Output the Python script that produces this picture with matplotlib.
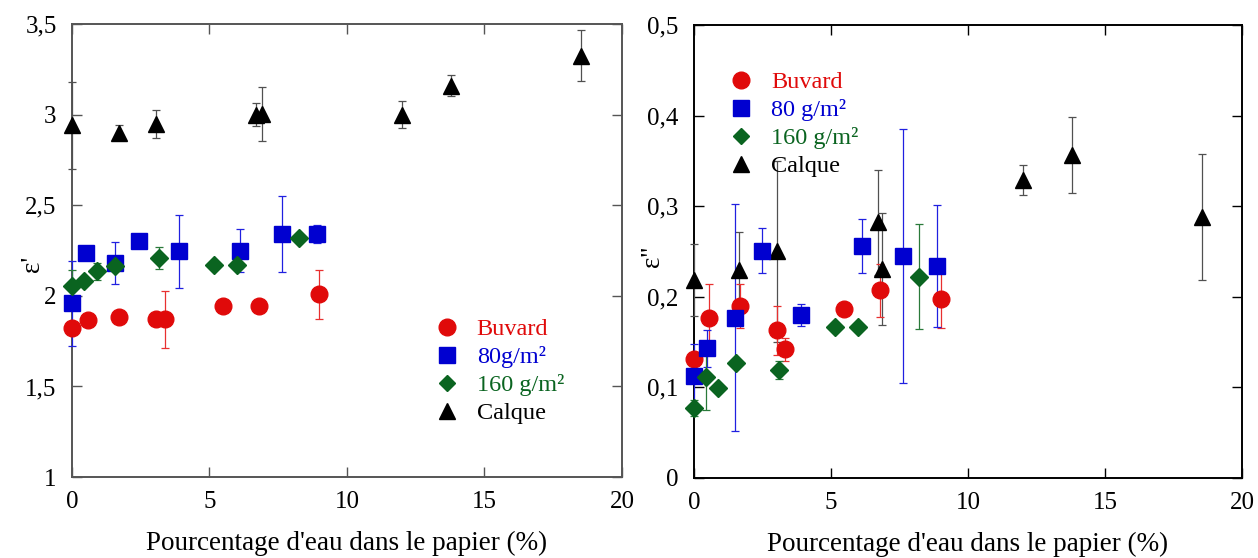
import matplotlib
matplotlib.use('Agg')
import matplotlib.pyplot as plt
from matplotlib.lines import Line2D
from matplotlib.ticker import FuncFormatter, MultipleLocator

plt.rcParams['font.family'] = ['Liberation Serif', 'DejaVu Serif']

# --- epsilon' (gauche) ---
buv_x1 = [0, 0.6, 1.7, 3.05, 3.4, 5.5, 6.8, 9.0]
buv_y1 = [1.82, 1.865, 1.885, 1.87, 1.87, 1.945, 1.945, 2.01]
buv_e1 = [0, 0, 0, 0, 0.155, 0, 0, 0.135]

g80_x1 = [0, 0.5, 1.55, 2.45, 3.9, 6.1, 7.65, 8.9]
g80_y1 = [1.96, 2.235, 2.18, 2.305, 2.245, 2.25, 2.34, 2.34]
g80_e1 = [0.235, 0, 0.115, 0, 0.2, 0.12, 0.21, 0.05]

g160_x1 = [0, 0.45, 0.9, 1.55, 3.15, 5.15, 6.0, 8.25]
g160_y1 = [2.055, 2.08, 2.135, 2.165, 2.21, 2.17, 2.17, 2.32]
g160_e1 = [0.09, 0, 0.045, 0, 0.06, 0, 0, 0]

cal_x1 = [0, 1.7, 3.05, 6.7, 6.9, 12.0, 13.8, 18.5]
cal_y1 = [2.94, 2.90, 2.95, 3.0, 3.005, 3.0, 3.16, 3.325]
cal_e1 = [0.24, 0.04, 0.077, 0.064, 0.15, 0.075, 0.057, 0.14]

# --- epsilon'' (droite) ---
buv_x2 = [0, 0.55, 1.68, 3.02, 3.32, 5.49, 6.79, 9.01]
buv_y2 = [0.131, 0.177, 0.190, 0.163, 0.142, 0.187, 0.207, 0.198]
buv_e2 = [0, 0.037, 0.024, 0.027, 0.013, 0, 0.029, 0.032]

g80_x2 = [0, 0.46, 1.5, 2.47, 3.89, 6.12, 7.64, 8.88]
g80_y2 = [0.113, 0.143, 0.177, 0.251, 0.180, 0.256, 0.245, 0.234]
g80_e2 = [0.035, 0.02, 0.125, 0.025, 0.012, 0.03, 0.14, 0.067]

g160_x2 = [0, 0.44, 0.86, 1.53, 3.1, 5.15, 6.0, 8.22]
g160_y2 = [0.077, 0.112, 0.099, 0.127, 0.119, 0.167, 0.167, 0.222]
g160_e2 = [0.009, 0.037, 0, 0, 0.01, 0, 0, 0.058]

cal_x2 = [0, 1.63, 3.03, 6.7, 6.87, 12.0, 13.81, 18.53]
cal_y2 = [0.2185, 0.23, 0.25, 0.282, 0.231, 0.329, 0.357, 0.288]
cal_e2 = [0.04, 0.042, 0.1, 0.058, 0.062, 0.017, 0.042, 0.07]

red = '#e00a0a'
blue = '#0000d0'
green = '#0a6420'
black = '#000000'

labels1 = ['Buvard', '80g/m²', '160 g/m²', 'Calque']
labels2 = ['Buvard', '80 g/m²', '160 g/m²', 'Calque']

def comma(v, pos):
    return ('%g' % round(v, 2)).replace('.', ',')

fig = plt.figure(figsize=(12.58, 5.58), dpi=100)
ax1 = fig.add_axes([0.0572, 0.145, 0.4372, 0.812])
ax2 = fig.add_axes([0.5517, 0.1434, 0.4356, 0.8118])

def draw(ax, series, spine_col):
    for x, y, e, m, ms, c, ec in series:
        cont = ax.errorbar(x, y, yerr=e, fmt=m, ms=ms, color=c, mec=c, ecolor=ec,
                           elinewidth=0.9, capsize=3, capthick=0.9, zorder=3)
        data_line, caps, bars = cont.lines
        for art in [data_line] + list(caps) + list(bars):
            art.set_clip_on(False)
    ax.set_xlim(0, 20)
    ax.xaxis.set_major_locator(MultipleLocator(5))
    ax.tick_params(direction='in', length=7, width=1, top=True, right=True,
                   labelsize=18, pad=10, color=spine_col)
    ax.tick_params(axis='y', pad=11)
    for s in ax.spines.values():
        s.set_color(spine_col)
        s.set_linewidth(1.4)
    ax.yaxis.set_major_formatter(FuncFormatter(comma))
    ax.xaxis.set_major_formatter(FuncFormatter(comma))
    ax.set_xlabel("Pourcentage d'eau dans le papier (%)", fontsize=19.5)
    ax.xaxis.set_label_coords(0.5, -0.119)

draw(ax1, [
    (cal_x1, cal_y1, cal_e1, '^', 11, black, '#505050'),
    (buv_x1, buv_y1, buv_e1, 'o', 12, red, '#e83030'),
    (g80_x1, g80_y1, g80_e1, 's', 12, blue, '#2020e0'),
    (g160_x1, g160_y1, g160_e1, 'D', 9, green, '#2a7a3a'),
], '#555555')
ax1.set_ylim(1, 3.5)
ax1.yaxis.set_major_locator(MultipleLocator(0.5))
ax1.set_ylabel("ε'", fontsize=19.5)
ax1.yaxis.set_label_coords(-0.049, 0.47)

draw(ax2, [
    (cal_x2, cal_y2, cal_e2, '^', 11, black, '#505050'),
    (buv_x2, buv_y2, buv_e2, 'o', 12, red, '#e83030'),
    (g80_x2, g80_y2, g80_e2, 's', 12, blue, '#2020e0'),
    (g160_x2, g160_y2, g160_e2, 'D', 9, green, '#2a7a3a'),
], '#000000')
ax2.set_ylim(0, 0.5)
ax2.yaxis.set_major_locator(MultipleLocator(0.1))
ax2.set_ylabel("ε''", fontsize=19.5)
ax2.yaxis.set_label_coords(-0.053, 0.49)

def legend(ax, labels, anchor):
    handles = [
        Line2D([], [], ls='none', marker='o', ms=12, color=red),
        Line2D([], [], ls='none', marker='s', ms=12, color=blue),
        Line2D([], [], ls='none', marker='D', ms=8, color=green),
        Line2D([], [], ls='none', marker='^', ms=11, color=black),
    ]
    leg = ax.legend(handles, labels, loc='upper left', bbox_to_anchor=anchor,
                    frameon=False, fontsize=17.5, handlelength=1.0,
                    handletextpad=0.74, labelspacing=0.25, borderpad=0,
                    borderaxespad=0, numpoints=1)
    for t, c in zip(leg.get_texts(), [red, blue, green, black]):
        t.set_color(c)

legend(ax1, labels1, (0.659, 0.351))
legend(ax2, labels2, (0.063, 0.898))

fig.savefig('out.png', dpi=100)
